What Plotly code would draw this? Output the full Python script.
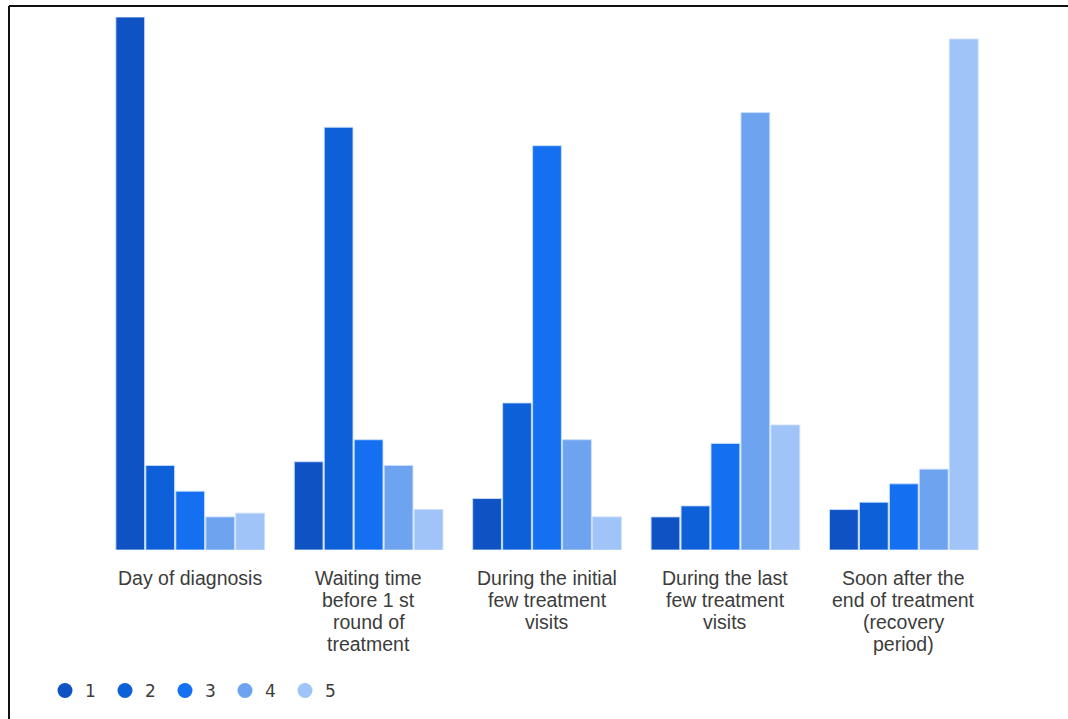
import plotly.graph_objects as go

categories = [
    "Day of diagnosis",
    "Waiting time<br>before 1 st<br>round of<br>treatment",
    "During the initial<br>few treatment<br>visits",
    "During the last<br>few treatment<br>visits",
    "Soon after the<br>end of treatment<br>(recovery<br>period)",
]
series_names = ["1", "2", "3", "4", "5"]
values_1 = [145, 24, 14, 9, 11]
values_2 = [23, 115, 40, 12, 13]
values_3 = [16, 30, 110, 29, 18]
values_4 = [9, 23, 30, 119, 22]
values_5 = [10, 11, 9, 34, 139]
series_values = [values_1, values_2, values_3, values_4, values_5]
colors = ["#0f52c4", "#0d60d8", "#1470f0", "#6ea3f0", "#a0c3f8"]

fig = go.Figure()
for name, vals, col in zip(series_names, series_values, colors):
    fig.add_trace(go.Bar(
        x=categories, y=vals, name=name, showlegend=False,
        marker=dict(color=col, line=dict(color="rgba(200,222,252,0.9)", width=1)),
    ))
for name, col in zip(series_names, colors):
    fig.add_trace(go.Scatter(
        x=[None], y=[None], mode="markers", name=name,
        marker=dict(color=col, size=15, symbol="circle"),
    ))

W, H = 1068, 719
L, R, T, B = 101, 75, 17, 169
pw, ph = W - L - R, H - T - B

def px_x(x):
    return (x - L) / pw

def px_y(y):
    return (H - B - y) / ph

# category labels drawn line by line for tight line spacing
annotations = []
for cat in categories:
    for i, line in enumerate(cat.split("<br>")):
        annotations.append(dict(
            x=cat, xref="x", y=px_y(578 + 22 * i), yref="paper",
            text=line, showarrow=False, xanchor="center", yanchor="middle",
            font=dict(family="Liberation Sans, Arial, sans-serif", size=19.5, color="#3c3c3c"),
        ))

fig.update_layout(
    width=W, height=H,
    margin=dict(l=L, r=R, t=T, b=B, autoexpand=False),
    paper_bgcolor="white", plot_bgcolor="white",
    barmode="group", bargap=0.16, bargroupgap=0.04,
    font=dict(family="Liberation Sans, Arial, sans-serif", size=16, color="#444444"),
    xaxis=dict(showgrid=False, zeroline=False, showline=False, ticks="",
               showticklabels=False),
    yaxis=dict(range=[0, 145], visible=False, showgrid=False, zeroline=False),
    showlegend=True,
    legend=dict(orientation="h", x=px_x(45), xanchor="left", y=px_y(691), yanchor="middle",
                font=dict(family="DejaVu Sans, sans-serif", size=17, color="#3c3c3c"),
                entrywidth=15, entrywidthmode="pixels", itemsizing="trace"),
    annotations=annotations,
    shapes=[
        dict(type="line", xref="paper", yref="paper", x0=px_x(9), x1=px_x(1090), y0=px_y(6), y1=px_y(6),
             line=dict(color="#111111", width=2)),
        dict(type="line", xref="paper", yref="paper", x0=px_x(9), x1=px_x(9), y0=px_y(6), y1=px_y(740),
             line=dict(color="#111111", width=2)),
    ],
)
fig.write_html("out.html", config={"displayModeBar": False},
               post_script="document.body.style.margin='0';document.body.style.overflow='hidden';")
